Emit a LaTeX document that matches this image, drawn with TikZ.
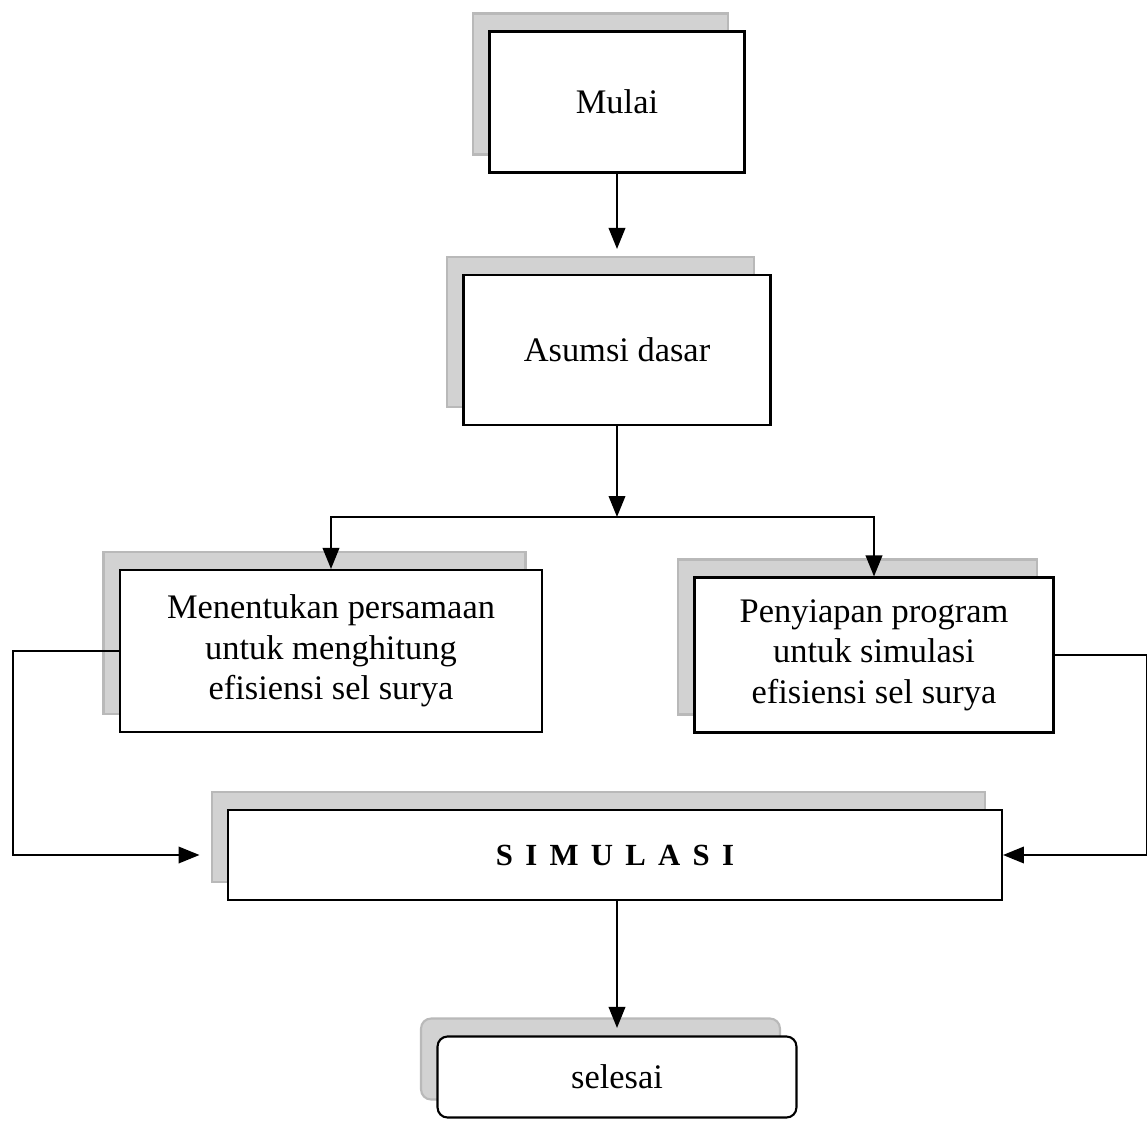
\documentclass[tikz,border=0pt]{standalone}
\usepackage{fontspec}
\setmainfont{Liberation Serif}
\usetikzlibrary{arrows.meta,shadows}

\begin{document}
\begin{tikzpicture}[
    x=0.02cm, y=-0.02cm,
    block/.style={rectangle, draw, fill=white, line width=1.2pt, align=center, font=\fontsize{19.6}{23}\selectfont,
        copy shadow={shadow xshift=-0.33cm, shadow yshift=0.36cm, fill=gray!35, draw=gray!55}},
    arrow/.style={-{Triangle[length=0.42cm, width=0.33cm]}, line width=1.2pt},
    line/.style={line width=1.2pt}
]
\useasboundingbox (0,0) rectangle (1147,1122);

% Top: start and basic assumption
\node[block, minimum width=5.1cm, minimum height=2.82cm] (mulai) at (617,102) {Mulai};
\node[block, minimum width=6.14cm, minimum height=3.0cm] (asumsi) at (617,350) {Asumsi dasar};

% Middle: the two parallel steps
\node[block, minimum width=8.44cm, minimum height=3.24cm] (persamaan) at (331,651) {Menentukan persamaan\\untuk menghitung\\efisiensi sel surya};
\node[block, minimum width=7.18cm, minimum height=3.1cm] (program) at (874,655) {Penyiapan program\\untuk simulasi\\efisiensi sel surya};

% Bottom: simulation and end
\node[block, minimum width=15.48cm, minimum height=1.8cm, font=\fontsize{17.5}{20}\selectfont\bfseries\addfontfeature{LetterSpace=40}] (simulasi) at (615,855) {SIMULASI};
\node[block, rounded corners=0.2cm, minimum width=7.18cm, minimum height=1.62cm] (selesai) at (617,1077) {selesai};

\coordinate (cabang) at (617,517);

\draw[arrow, shorten >=0.5cm] (mulai) -- (asumsi);
\draw[arrow] (asumsi) -- (cabang);
\draw[arrow] (cabang) -| (persamaan.north);
\draw[arrow] (cabang) -| (program.north);

% Feedback lines into the simulation
\draw[arrow, shorten >=0.55cm] (persamaan.west) -- ++(-106,0) |- (simulasi.west);
\draw[arrow] (program.east) -- ++(93,0) |- (simulasi.east);

\draw[arrow, shorten >=0.15cm] (simulasi.south -| selesai.north) -- (selesai.north);

\end{tikzpicture}
\end{document}
